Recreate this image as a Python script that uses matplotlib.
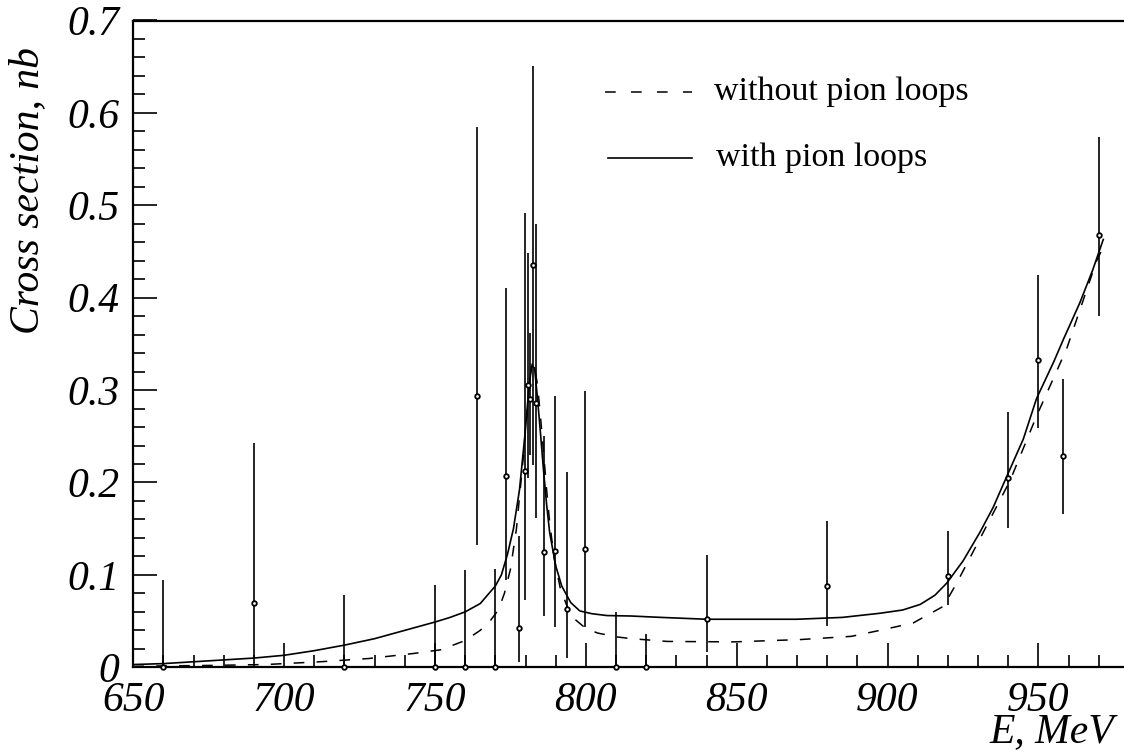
import numpy as np
import matplotlib
matplotlib.use("Agg")
import matplotlib.pyplot as plt
from matplotlib.ticker import MultipleLocator

plt.rcParams['font.family'] = ['Liberation Serif', 'DejaVu Serif']

# measured points: energy, cross section, error bar bottom / top
energy = [660, 690, 720, 750, 760, 763.8, 770, 773.6, 777.8, 779.7, 780.7, 781.6,
          782.6, 783.6, 786, 789.7, 793.7, 799.7, 810, 820, 840, 880, 920, 940,
          950, 958, 970]
sigma = [0, 0.070, 0, 0, 0, 0.294, 0, 0.207, 0.043, 0.212, 0.306, 0.290,
         0.435, 0.286, 0.125, 0.126, 0.063, 0.128, 0, 0, 0.052, 0.088, 0.099, 0.205,
         0.333, 0.229, 0.468]
err_lo = [0, 0.010, 0, 0, 0, 0.132, 0, 0.094, 0.006, 0.073, 0.205, 0.230,
          0.219, 0.162, 0.056, 0.044, 0.010, 0.044, 0, 0, 0.017, 0.045, 0.067, 0.151,
          0.259, 0.166, 0.380]
err_hi = [0.095, 0.243, 0.078, 0.089, 0.105, 0.585, 0.106, 0.411, 0.142, 0.492, 0.448, 0.362,
          0.651, 0.480, 0.250, 0.294, 0.211, 0.299, 0.060, 0.036, 0.121, 0.158, 0.148, 0.276,
          0.425, 0.312, 0.574]

# model with pion loops (solid)
e_with = [650, 660, 670, 680, 690, 700, 710, 720, 730, 740, 750, 755, 760, 765, 770, 772,
          774, 776, 778, 780, 781, 782, 783, 784, 785, 786, 787, 788, 790, 792, 795, 798,
          802, 807, 815, 825, 840, 870, 885, 897.5, 905, 910.8, 915.7, 919.6, 925, 930.6,
          935, 939.3, 945, 949.4, 955, 958.3, 963.8, 968, 971.5]
s_with = [0.003, 0.004, 0.006, 0.008, 0.010, 0.013, 0.018, 0.024, 0.031, 0.040, 0.049, 0.054,
          0.060, 0.069, 0.088, 0.100, 0.122, 0.150, 0.192, 0.258, 0.298, 0.326, 0.324, 0.290,
          0.252, 0.212, 0.176, 0.146, 0.110, 0.088, 0.070, 0.061, 0.058, 0.056, 0.0555, 0.054,
          0.052, 0.052, 0.054, 0.0585, 0.062, 0.068, 0.078, 0.091, 0.115, 0.146, 0.173, 0.205,
          0.247, 0.291, 0.330, 0.355, 0.395, 0.430, 0.463]

# model without pion loops (dashed)
e_without = [650, 660, 675, 694, 712, 728, 743, 752, 760, 765, 768, 771, 773, 775, 777, 779,
             780.5, 781.5, 782.3, 783, 784, 785, 786, 787, 788, 789.5, 791.5, 794, 796, 800,
             804, 810, 815, 827, 849, 871, 888, 897.5, 908.5, 918.5, 922.9, 930.6, 940.6,
             949.4, 959.4, 969.3, 972]
s_without = [0.001, 0.0015, 0.002, 0.003, 0.006, 0.0095, 0.015, 0.019, 0.029, 0.040, 0.049,
             0.062, 0.080, 0.106, 0.150, 0.218, 0.275, 0.315, 0.330, 0.325, 0.305, 0.270,
             0.232, 0.192, 0.157, 0.118, 0.086, 0.064, 0.053, 0.042, 0.037, 0.033, 0.031,
             0.028, 0.0275, 0.030, 0.0335, 0.040, 0.048, 0.066, 0.091, 0.139, 0.202, 0.272,
             0.345, 0.440, 0.458]

W, H = 1124, 753
fig = plt.figure(figsize=(W / 100, H / 100), dpi=100)
left, bottom = 133.3, 667.3
px_per_mev = 3.017
xmax = 980
ax = fig.add_axes([left / W, (H - bottom) / H, (xmax - 650) * px_per_mev / W, (bottom - 20.5) / H])

e = np.array(energy)
s = np.array(sigma)
yerr = [s - np.array(err_lo), np.array(err_hi) - s]
ax.errorbar(e, s, yerr=yerr, fmt='o', color='black', ms=3.3, mfc='white', mec='black',
            mew=1.3, elinewidth=1.2, capsize=0, zorder=3, clip_on=False)

ax.plot(e_with, s_with, color='black', lw=1.2)
ax.plot(e_without, s_without, color='black', lw=1.1, dashes=(7, 8))

ax.set_xlim(650, xmax)
ax.set_ylim(0, 0.7)
ax.xaxis.set_major_locator(MultipleLocator(50))
ax.xaxis.set_minor_locator(MultipleLocator(10))
ax.yaxis.set_major_locator(MultipleLocator(0.1))
ax.yaxis.set_minor_locator(MultipleLocator(0.02))
ax.xaxis.set_major_formatter(plt.FuncFormatter(lambda v, p: "%d" % v))
ax.yaxis.set_major_formatter(plt.FuncFormatter(lambda v, p: "0" if abs(v) < 1e-9 else "%.1f" % v))

ax.tick_params(which='both', direction='in', width=1.2, top=False, right=False,
               labelsize=30, pad=10)
ax.tick_params(which='major', length=17)
ax.tick_params(which='minor', length=8.5)
for lab in ax.get_xticklabels() + ax.get_yticklabels():
    lab.set_fontstyle('italic')
for sp in ['left', 'bottom', 'top']:
    ax.spines[sp].set_linewidth(1.6)
ax.spines['right'].set_visible(False)

fig.text(28 / W, 1 - 190 / H, "Cross section, nb", rotation=90, ha='center', va='center',
         fontsize=30, fontstyle='italic')
fig.text(1052 / W, 1 - 732 / H, "E, MeV", ha='center', va='center',
         fontsize=30, fontstyle='italic')

# legend drawn by hand
def fx(px):
    return (px - left) / ((xmax - 650) * px_per_mev)

def fy(py):
    return (bottom - py) / (bottom - 20.5)

ax.plot([fx(605), fx(692)], [fy(91.5), fy(91.5)], transform=ax.transAxes, color='black',
        lw=1.1, dashes=(7, 10))
ax.plot([fx(608), fx(692)], [fy(158), fy(158)], transform=ax.transAxes, color='black', lw=1.2)
ax.text(fx(714), fy(91.5), "without pion loops", transform=ax.transAxes, fontsize=24.5,
        va='center', ha='left')
ax.text(fx(716), fy(158), "with pion loops", transform=ax.transAxes, fontsize=24.5,
        va='center', ha='left')

fig.savefig("out.png", dpi=100)
